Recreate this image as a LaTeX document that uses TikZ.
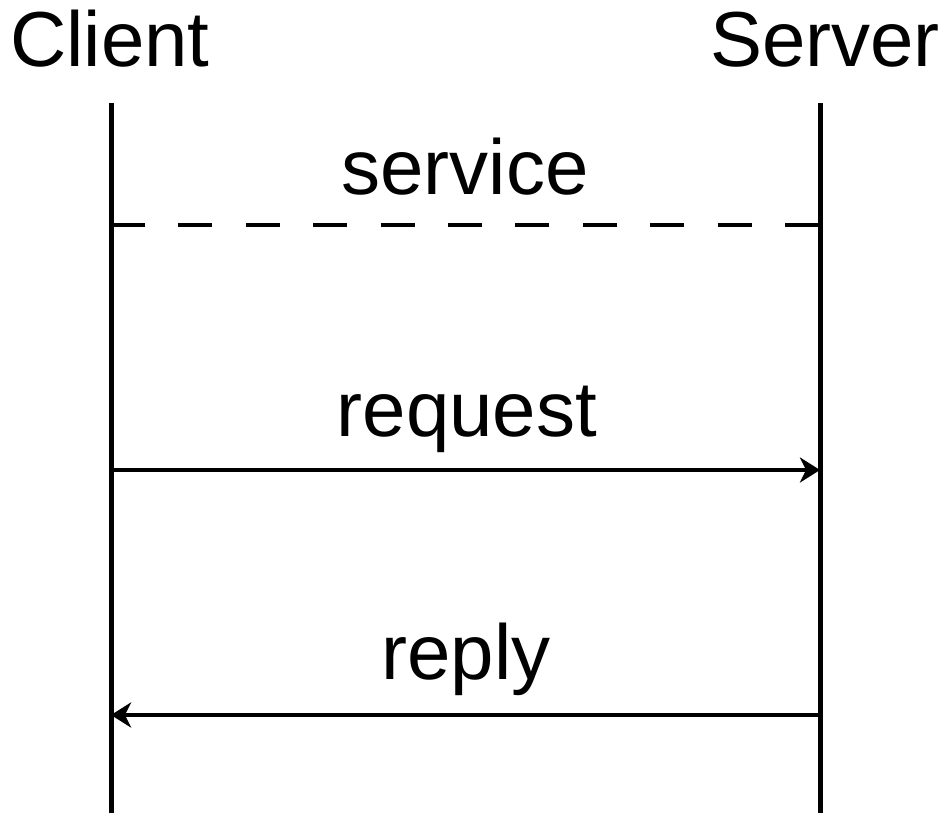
\documentclass[tikz,border=0pt]{standalone}
\usepackage{fontspec}
\setmainfont{Liberation Sans}
\usetikzlibrary{arrows.meta}
\begin{document}
\begin{tikzpicture}[x=1pt,y=-1pt,
  lbl/.style={inner sep=0pt,font=\fontsize{78}{82}\selectfont},
  life/.style={line width=5pt},
  msg/.style={line width=4.5pt,-{Stealth[length=20pt,width=25pt,inset=6pt]}},
  svc/.style={line width=4.5pt,dash pattern=on 34pt off 33.4pt}]
\useasboundingbox (0,0) rectangle (945,813);
\node[lbl,anchor=base west] (client) at (10,67) {Client};
\node[lbl,anchor=base east] (server) at (940,67) {Server};
\coordinate (ct) at (111,103);
\coordinate (cb) at (111,813);
\coordinate (st) at (820,103);
\coordinate (sb) at (820,813);
\draw[life] (ct) -- (cb);
\draw[life] (st) -- (sb);
\coordinate (c1) at (111,225);
\coordinate (s1) at (820,225);
\coordinate (c2) at (111,470);
\coordinate (s2) at (820,470);
\coordinate (c3) at (111,715);
\coordinate (s3) at (820,715);
\draw[svc] (c1) -- (s1);
\draw[msg] (c2) -- (s2);
\draw[msg] (s3) -- (c3);
\node[lbl,anchor=base] (service) at (465,195) {service};
\node[lbl,anchor=base] (request) at (467,436) {request};
\node[lbl,anchor=base] (reply) at (466,679) {reply};
\end{tikzpicture}
\end{document}
